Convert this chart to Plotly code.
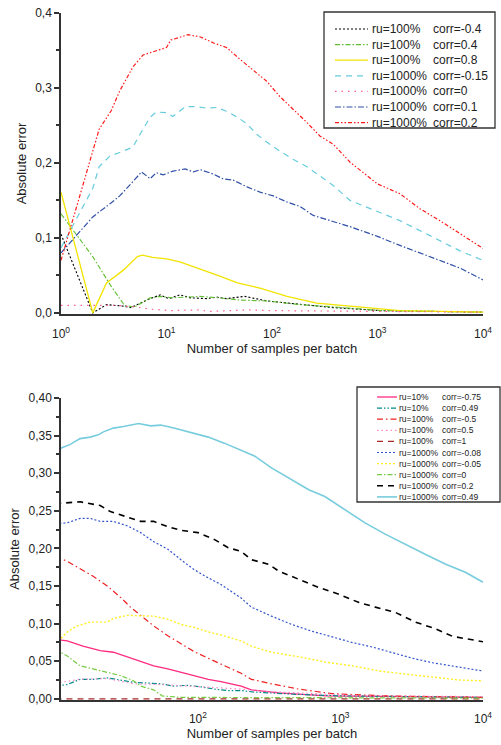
import plotly.graph_objects as go

# ---------------- top chart data ----------------
top_black_n = [1, 2, 2.7, 3.9, 4.6, 6.5, 8.7, 10.5, 13.4, 17, 24, 30, 37, 55, 89, 184, 380, 1100, 10000]
top_black_v = [0.105, 0.0, 0.011, 0.009, 0.007, 0.017, 0.024, 0.019, 0.024, 0.02, 0.019, 0.021, 0.019, 0.022, 0.016, 0.011, 0.007, 0.003, 0.001]

top_green_n = [1, 2, 3, 4, 5, 6, 7, 8.7, 11.5, 15, 20.7, 32, 50, 89, 184, 380, 1100, 10000]
top_green_v = [0.132, 0.075, 0.035, 0.01, 0.008, 0.015, 0.02, 0.022, 0.02, 0.021, 0.022, 0.02, 0.017, 0.016, 0.011, 0.008, 0.003, 0.001]

top_yellow_n = [1, 2, 2.7, 3.9, 5.3, 5.9, 7.4, 10, 13.4, 17.8, 24, 32, 47, 77, 139, 265, 550, 1630, 10000]
top_yellow_v = [0.161, 0.0, 0.04, 0.057, 0.075, 0.077, 0.074, 0.072, 0.068, 0.062, 0.056, 0.049, 0.04, 0.033, 0.022, 0.013, 0.009, 0.003, 0.001]

top_cyan_n = [1, 2, 2.3, 2.9, 3.6, 4.8, 5.6, 7, 8, 10, 11.5, 15, 19.5, 24, 30, 37, 47, 58, 72, 89, 118, 158, 214, 284, 380, 550, 1000, 1630, 3150, 6000, 10000]
top_cyan_v = [0.087, 0.166, 0.195, 0.209, 0.214, 0.221, 0.238, 0.261, 0.268, 0.267, 0.262, 0.275, 0.275, 0.273, 0.274, 0.269, 0.261, 0.252, 0.238, 0.228, 0.216, 0.205, 0.195, 0.183, 0.17, 0.15, 0.135, 0.123, 0.103, 0.083, 0.07]

top_pink_n = [1, 3.4, 5, 7, 11, 15, 20, 26, 35, 60, 100, 200, 500, 1000, 10000]
top_pink_v = [0.01, 0.01, 0.008, 0.005, 0.003, 0.004, 0.004, 0.002, 0.003, 0.004, 0.003, 0.003, 0.002, 0.002, 0.001]

top_blue_n = [1, 2, 3, 3.6, 4.8, 5.8, 7, 8, 9.3, 11.5, 15, 18, 21, 28, 34, 43, 58, 77, 103, 138, 184, 246, 550, 1000, 1630, 3150, 6000, 10000]
top_blue_v = [0.08, 0.128, 0.147, 0.156, 0.175, 0.188, 0.179, 0.187, 0.184, 0.189, 0.192, 0.188, 0.191, 0.185, 0.179, 0.177, 0.168, 0.161, 0.156, 0.148, 0.142, 0.13, 0.115, 0.102, 0.09, 0.075, 0.06, 0.044]

top_red_n = [1, 2, 2.3, 3, 3.6, 4.8, 6, 10, 11, 16, 21, 28, 37, 50, 66, 89, 118, 158, 214, 284, 380, 550, 1000, 1630, 2520, 3900, 6000, 10000]
top_red_v = [0.07, 0.218, 0.245, 0.27, 0.296, 0.328, 0.344, 0.354, 0.364, 0.371, 0.368, 0.36, 0.354, 0.338, 0.324, 0.309, 0.289, 0.272, 0.254, 0.236, 0.225, 0.201, 0.172, 0.159, 0.139, 0.123, 0.106, 0.086]

top_ru = ["ru=100%", "ru=100%", "ru=100%", "ru=1000%", "ru=1000%", "ru=1000%", "ru=1000%"]
top_corr = ["corr=-0.4", "corr=0.4", "corr=0.8", "corr=-0.15", "corr=0", "corr=0.1", "corr=0.2"]
top_yticks = [0.0, 0.1, 0.2, 0.3, 0.4]
top_yticktext = ["0,0", "0,1", "0,2", "0,3", "0,4"]

# ---------------- bottom chart data ----------------
bot_pink_n = [10, 12.1, 15.6, 20.6, 25.5, 32, 39.6, 48.9, 61.4, 75.9, 93.7, 118, 145, 201, 237, 368, 800, 10000]
bot_pink_v = [0.079, 0.077, 0.07, 0.064, 0.062, 0.056, 0.05, 0.044, 0.04, 0.036, 0.031, 0.026, 0.023, 0.017, 0.012, 0.008, 0.004, 0.002]

bot_teal_n = [10, 12.1, 14.9, 18.4, 23.1, 28.6, 35.3, 44.4, 54.8, 67.7, 84.9, 105, 130, 163, 201, 250, 500, 1000, 10000]
bot_teal_v = [0.017, 0.019, 0.026, 0.026, 0.028, 0.025, 0.022, 0.021, 0.02, 0.017, 0.018, 0.016, 0.013, 0.011, 0.011, 0.009, 0.006, 0.004, 0.002]

bot_red_n = [10, 12.1, 14.9, 18.4, 23.1, 28.6, 33.6, 39.6, 48.9, 61.4, 75.9, 93.7, 118, 145, 201, 237, 328, 509, 871, 2000, 10000]
bot_red_v = [0.189, 0.183, 0.173, 0.163, 0.15, 0.135, 0.122, 0.111, 0.097, 0.084, 0.073, 0.063, 0.054, 0.046, 0.034, 0.026, 0.02, 0.013, 0.007, 0.004, 0.002]

bot_pinkdot_n = [10, 14.9, 23.1, 35.3, 54.8, 84.9, 130, 201, 300, 600, 1500, 10000]
bot_pinkdot_v = [0.021, 0.026, 0.027, 0.02, 0.019, 0.017, 0.015, 0.013, 0.01, 0.007, 0.004, 0.003]

bot_darkred_n = [10, 10000]
bot_darkred_v = [0.0, 0.0]

bot_blue_n = [10, 12.1, 14.9, 17.5, 20.6, 25.5, 32, 39.6, 48.9, 61.4, 75.9, 93.7, 118, 145, 201, 237, 328, 454, 629, 871, 1205, 1665, 2310, 3200, 4436, 6141, 8495, 10000]
bot_blue_v = [0.233, 0.234, 0.24, 0.24, 0.236, 0.236, 0.23, 0.221, 0.209, 0.199, 0.185, 0.172, 0.161, 0.152, 0.134, 0.122, 0.11, 0.099, 0.09, 0.082, 0.075, 0.069, 0.061, 0.054, 0.048, 0.044, 0.04, 0.037]

bot_yellow_n = [10, 10.8, 12.1, 14.2, 17.5, 23.1, 25.5, 32, 39.6, 48.9, 61.4, 75.9, 93.7, 118, 145, 201, 237, 328, 509, 777, 1205, 1870, 2857, 4436, 6880, 10000]
bot_yellow_v = [0.073, 0.079, 0.089, 0.097, 0.102, 0.102, 0.107, 0.111, 0.11, 0.11, 0.106, 0.099, 0.095, 0.089, 0.085, 0.077, 0.07, 0.062, 0.056, 0.049, 0.044, 0.037, 0.033, 0.029, 0.025, 0.024]

bot_green_n = [10, 12.1, 14.9, 18.4, 23.1, 28.6, 35.3, 39.6, 48.9, 56, 75, 150, 300, 10000]
bot_green_v = [0.066, 0.057, 0.044, 0.04, 0.036, 0.031, 0.024, 0.017, 0.012, 0.004, 0.002, 0.002, 0.001, 0.001]

bot_black_n = [10, 10.8, 14.9, 20.6, 24.3, 32, 39.6, 48.9, 61.4, 75.9, 100, 130, 163, 201, 237, 313, 368, 509, 705, 977, 1350, 1753, 2427, 3364, 4660, 6141, 8495, 10000]
bot_black_v = [0.258, 0.26, 0.262, 0.257, 0.249, 0.242, 0.236, 0.236, 0.229, 0.224, 0.221, 0.212, 0.201, 0.196, 0.185, 0.179, 0.17, 0.159, 0.148, 0.139, 0.128, 0.122, 0.115, 0.102, 0.093, 0.083, 0.078, 0.076]

bot_cyan_n = [10, 11.1, 12.6, 14.9, 17.5, 20, 21.7, 25.5, 30, 33.6, 38.3, 46.6, 54.8, 67.7, 89.2, 118, 153, 201, 249, 328, 454, 599, 777, 1024, 1487, 2060, 2857, 3957, 5483, 7583, 10000]
bot_cyan_v = [0.327, 0.334, 0.338, 0.346, 0.348, 0.351, 0.355, 0.36, 0.362, 0.364, 0.366, 0.363, 0.364, 0.36, 0.354, 0.348, 0.34, 0.331, 0.323, 0.307, 0.291, 0.278, 0.269, 0.254, 0.234, 0.219, 0.205, 0.192, 0.179, 0.168, 0.155]

bot_ru = ["ru=10%", "ru=10%", "ru=100%", "ru=100%", "ru=100%", "ru=1000%", "ru=1000%", "ru=1000%", "ru=1000%", "ru=1000%"]
bot_corr = ["corr=-0.75", "corr=0.49", "corr=-0.5", "corr=0.5", "corr=1", "corr=-0.08", "corr=-0.05", "corr=0", "corr=0.2", "corr=0.49"]
bot_yticks = [0.0, 0.05, 0.10, 0.15, 0.20, 0.25, 0.30, 0.35, 0.40]
bot_yticktext = ["0,00", "0,05", "0,10", "0,15", "0,20", "0,25", "0,30", "0,35", "0,40"]

xticks = [1, 10, 100, 1000, 10000]
xticktext = ["10<sup>0</sup>", "10<sup>1</sup>", "10<sup>2</sup>", "10<sup>3</sup>", "10<sup>4</sup>"]

FONT = "Liberation Sans, Arial, sans-serif"

# page geometry (pixels)
W, HT = 501, 745
ML, MR, MT, MB = 61, 18, 13, 45
PW = W - ML - MR
PH = HT - MT - MB


def px_x(p):
    return (p - ML) / PW


def px_y(p):
    return (HT - MB - p) / PH


fig = go.Figure()

top_series = [
    (top_black_n, top_black_v, "#000000", "2px,2px", 1.1),
    (top_green_n, top_green_v, "#5fbf2f", "5px,2px,1.5px,2px", 1.1),
    (top_yellow_n, top_yellow_v, "#f2e400", "solid", 1.3),
    (top_cyan_n, top_cyan_v, "#66ccdd", "6px,5px", 1.2),
    (top_pink_n, top_pink_v, "#ff5c8a", "1.5px,5px", 1.2),
    (top_blue_n, top_blue_v, "#3050a8", "6px,2px,1.5px,2px", 1.2),
    (top_red_n, top_red_v, "#ff1a1a", "4px,2px,1.5px,2px,1.5px,2px", 1.2),
]
for (n, v, c, d, w), ru, co in zip(top_series, top_ru, top_corr):
    fig.add_trace(go.Scatter(x=n, y=v, mode="lines", name=ru + " " + co,
                             line=dict(color=c, width=w, dash=d),
                             xaxis="x", yaxis="y", showlegend=False))

bot_series = [
    (bot_pink_n, bot_pink_v, "#ff2a7f", "solid", 1.3),
    (bot_teal_n, bot_teal_v, "#008b8b", "5px,2px,1.5px,2px,1.5px,2px", 1.2),
    (bot_red_n, bot_red_v, "#ee2222", "6px,3px,1.5px,3px", 1.2),
    (bot_pinkdot_n, bot_pinkdot_v, "#ff88cc", "1.5px,3px", 1.2),
    (bot_darkred_n, bot_darkred_v, "#a52a2a", "6px,5px", 1.4),
    (bot_blue_n, bot_blue_v, "#3355cc", "2px,2px", 1.2),
    (bot_yellow_n, bot_yellow_v, "#ffee22", "2px,2px", 1.4),
    (bot_green_n, bot_green_v, "#77cc44", "5px,2px,1.5px,2px", 1.2),
    (bot_black_n, bot_black_v, "#000000", "6px,5px", 1.6),
    (bot_cyan_n, bot_cyan_v, "#77ccdd", "solid", 1.6),
]
for (n, v, c, d, w), ru, co in zip(bot_series, bot_ru, bot_corr):
    fig.add_trace(go.Scatter(x=n, y=v, mode="lines", name=ru + " " + co,
                             line=dict(color=c, width=w, dash=d),
                             xaxis="x2", yaxis="y2", showlegend=False))

# ---------------- hand-drawn legends (compact row spacing) ----------------
shapes = []
annotations = []


def add_legend(series, rus, corrs, box, row0, dy, line_x, ru_x, corr_x, fsize):
    x0, y0, x1, y1 = box
    shapes.append(dict(type="rect", xref="paper", yref="paper",
                       x0=px_x(x0), x1=px_x(x1), y0=px_y(y1), y1=px_y(y0),
                       fillcolor="white", line=dict(color="#333", width=1.3), layer="above"))
    for i, ((n, v, c, d, w), ru, co) in enumerate(zip(series, rus, corrs)):
        yy = row0 + i * dy
        shapes.append(dict(type="line", xref="paper", yref="paper",
                           x0=px_x(line_x[0]), x1=px_x(line_x[1]), y0=px_y(yy), y1=px_y(yy),
                           line=dict(color=c, width=w, dash=d), layer="above"))
        annotations.append(dict(text=ru, xref="paper", yref="paper", x=px_x(ru_x), y=px_y(yy),
                                xanchor="left", yanchor="middle", showarrow=False,
                                font=dict(family=FONT, size=fsize, color="#222")))
        annotations.append(dict(text=co, xref="paper", yref="paper", x=px_x(corr_x), y=px_y(yy),
                                xanchor="left", yanchor="middle", showarrow=False,
                                font=dict(family=FONT, size=fsize, color="#222")))


add_legend(top_series, top_ru, top_corr, box=(324, 12, 495, 128), row0=29, dy=15.6,
           line_x=(335, 368), ru_x=370, corr_x=431, fsize=12)
add_legend(bot_series, bot_ru, bot_corr, box=(357, 387, 500, 502), row0=397, dy=11.1,
           line_x=(377, 397), ru_x=397, corr_x=440, fsize=8.5)

axis_common = dict(showline=True, linecolor="#333333", linewidth=1.5, showgrid=False,
                   zeroline=False, tickfont=dict(family=FONT, size=12, color="#222"))

fig.update_layout(
    width=W, height=HT,
    margin=dict(l=ML, r=MR, t=MT, b=MB, autoexpand=False),
    paper_bgcolor="white", plot_bgcolor="white",
    font=dict(family=FONT, color="#222"),
    showlegend=False,
    shapes=shapes, annotations=annotations,
    xaxis=dict(type="log", range=[0, 4], domain=[0, 1], anchor="y",
               tickmode="array", tickvals=xticks, ticktext=xticktext, ticks="",
               ticklabelstandoff=8,
               title=dict(text="Number of samples per batch", font=dict(family=FONT, size=13), standoff=2),
               **axis_common),
    yaxis=dict(range=[-0.0015, 0.4], domain=[px_y(314), 1], anchor="x",
               tickmode="array", tickvals=top_yticks, ticktext=top_yticktext,
               ticks="outside", ticklen=5, tickwidth=1.5, tickcolor="#333",
               minor=dict(tickvals=[0.05, 0.15, 0.25, 0.35], ticks="outside", ticklen=3, tickwidth=1.5, tickcolor="#333"),
               title=dict(text="Absolute error", font=dict(family=FONT, size=13), standoff=6),
               **axis_common),
    xaxis2=dict(type="log", range=[1.039, 4.0], domain=[0, 1], anchor="y2",
                tickmode="array", tickvals=xticks, ticktext=xticktext, ticks="",
                ticklabelstandoff=7,
                title=dict(text="Number of samples per batch", font=dict(family=FONT, size=13), standoff=3),
                **axis_common),
    yaxis2=dict(range=[-0.0015, 0.4], domain=[0, px_y(398)], anchor="x2",
                tickmode="array", tickvals=bot_yticks, ticktext=bot_yticktext,
                ticks="outside", ticklen=5, tickwidth=1.5, tickcolor="#333",
                minor=dict(tickvals=[0.025, 0.075, 0.125, 0.175, 0.225, 0.275, 0.325, 0.375], ticks="outside", ticklen=3, tickwidth=1.5, tickcolor="#333"),
                title=dict(text="Absolute error", font=dict(family=FONT, size=13), standoff=6),
                **axis_common),
)

fig.write_html("out.html", config={"displayModeBar": False},
               post_script="document.body.style.margin='0';document.body.style.overflow='hidden';")
